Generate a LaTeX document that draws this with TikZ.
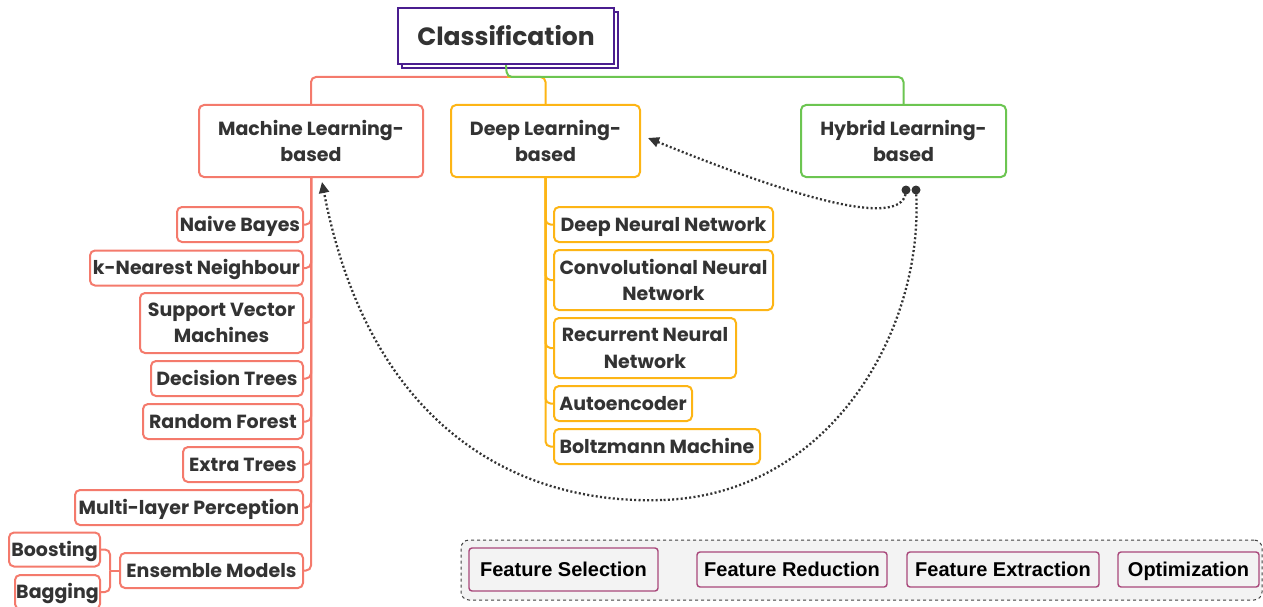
\documentclass[tikz,border=0pt]{standalone}
\usepackage{fontspec}
\setmainfont{Poppins}
\newfontfamily\featfont{Liberation Sans}
\usetikzlibrary{arrows.meta}
\definecolor{mlred}{HTML}{F47A6C}
\definecolor{dlorange}{HTML}{FDB515}
\definecolor{hygreen}{HTML}{6CC551}
\definecolor{clspurple}{HTML}{4A1D8F}
\definecolor{txt}{HTML}{333333}
\definecolor{featborder}{HTML}{A8477A}
\definecolor{featfill}{HTML}{F3F3F3}
\definecolor{dotc}{HTML}{333333}
\tikzset{
  base/.style={draw, line width=2pt, rounded corners=5pt, fill=white, text=txt,
    font=\fontsize{19}{26.5}\selectfont\bfseries, inner sep=0pt, align=center},
  single/.style={text height=14pt, text depth=1pt},
  mlbox/.style={base, draw=mlred},
  dlbox/.style={base, draw=dlorange},
  hybox/.style={base, draw=hygreen},
  mlline/.style={draw=mlred, line width=2pt, rounded corners=5pt},
  dlline/.style={draw=dlorange, line width=2pt, rounded corners=5pt},
  hyline/.style={draw=hygreen, line width=2pt, rounded corners=5pt},
  featbox/.style={draw=featborder, line width=1.4pt, rounded corners=3pt, fill=featfill,
    text=black, font=\featfont\fontsize{20}{24}\selectfont\bfseries, inner sep=0pt,
    text height=13pt, text depth=0pt},
  dotline/.style={draw=dotc, line width=2.3pt, dash pattern=on 2pt off 2.3pt},
  dotarrow/.style={dotline, -{Triangle[length=11pt,width=10pt]}},
}
\begin{document}
\begin{tikzpicture}[x=1pt,y=-1pt]
\useasboundingbox (0,0) rectangle (1263,607);

% Classification
\node[draw=clspurple, line width=2.2pt, fill=white, minimum width=216pt, minimum height=56pt, inner sep=0pt] (clsshadow) at (510,40) {};
\node[draw=clspurple, line width=2.2pt, fill=white, minimum width=216pt, minimum height=56pt, inner sep=0pt,
  text=txt, font=\fontsize{25}{30}\selectfont\bfseries] (cls) at (506,36) {Classification};

% level 1
\node[mlbox, minimum width=224pt, minimum height=72pt] (ml) at (311,141) {Machine Learning-\\based};
\node[dlbox, minimum width=189pt, minimum height=72pt] (dl) at (545.5,141) {Deep Learning-\\based};
\node[hybox, minimum width=205pt, minimum height=72pt] (hy) at (903.5,141) {Hybrid Learning-\\based};

\coordinate (cj) at (507,77);
\draw[dlline] (cj) -| (dl.north);
\draw[mlline] (cj) -| (ml.north);
\draw[hyline] (cls.south) -- (cj) -| (hy.north);

% ML children
\node[mlbox, single, minimum width=126pt, minimum height=35pt] (nb) at (240,224.5) {Naive Bayes};
\node[mlbox, single, minimum width=213pt, minimum height=35pt] (knn) at (196.5,268) {k-Nearest Neighbour};
\node[mlbox, minimum width=163pt, minimum height=60pt] (svm) at (221.5,323) {Support Vector\\Machines};
\node[mlbox, single, minimum width=152pt, minimum height=35pt] (dt) at (227,378.5) {Decision Trees};
\node[mlbox, single, minimum width=160pt, minimum height=35pt] (rf) at (223,421.5) {Random Forest};
\node[mlbox, single, minimum width=120pt, minimum height=35pt] (et) at (243,464.5) {Extra Trees};
\node[mlbox, single, minimum width=228pt, minimum height=35pt] (mlp) at (189,507.5) {Multi-layer Perception};
\node[mlbox, single, minimum width=183pt, minimum height=35pt] (ens) at (211.5,570.5) {Ensemble Models};
\node[mlbox, single, minimum width=91pt, minimum height=34pt] (boost) at (54.5,549.5) {Boosting};
\node[mlbox, single, minimum width=85pt, minimum height=34pt] (bag) at (57.5,592) {Bagging};

\foreach \c in {nb,knn,svm,dt,rf,et,mlp,ens}{
  \draw[mlline] (ml.south) |- (\c.east);
}
\coordinate (ensj) at (110,570.5);
\draw[mlline] (ens.west) -- (ensj);
\draw[mlline] (ensj) |- (boost.east);
\draw[mlline] (ensj) |- (bag.east);

% DL children
\node[dlbox, single, minimum width=219pt, minimum height=35pt, anchor=west] (dnn) at (553,224.5) {Deep Neural Network};
\node[dlbox, minimum width=219pt, minimum height=60pt, anchor=west] (cnn) at (553,280) {Convolutional Neural\\Network};
\node[dlbox, minimum width=182pt, minimum height=60pt, anchor=west] (rnn) at (553,348) {Recurrent Neural\\Network};
\node[dlbox, single, minimum width=138pt, minimum height=35pt, anchor=west] (ae) at (553,403.5) {Autoencoder};
\node[dlbox, single, minimum width=206pt, minimum height=35pt, anchor=west] (bm) at (553,446.5) {Boltzmann Machine};
\foreach \c in {dnn,cnn,rnn,ae,bm}{
  \draw[dlline] (dl.south) |- (\c.west);
}

% dotted relations
\coordinate (d1) at (906,190);
\coordinate (d2) at (916,190);
\coordinate (bot) at (662,500);
\coordinate (dlin) at (648,138);
\coordinate (mlin) at (322,182);
\draw[dotarrow] (d1) .. controls (906,230) and (800,200) .. (dlin);
\draw[dotline] (d2) .. controls (925,330) and (830,495) .. (bot);
\draw[dotarrow] (bot) .. controls (520,505) and (370,430) .. (mlin);
\fill[dotc] (d1) circle (4.5pt);
\fill[dotc] (d2) circle (4.5pt);

% bottom group
\node[draw=black!75, dashed, line width=1pt, rounded corners=8pt, fill=featfill,
  minimum width=801pt, minimum height=60pt, inner sep=0pt] (grp) at (861.5,570) {};
\node[featbox, minimum width=189pt, minimum height=43pt] (fs) at (563.5,569.5) {Feature Selection};
\node[featbox, minimum width=190pt, minimum height=35pt] (fr) at (792,569.5) {Feature Reduction};
\node[featbox, minimum width=192pt, minimum height=35pt] (fe) at (1003,569.5) {Feature Extraction};
\node[featbox, minimum width=141pt, minimum height=35pt] (op) at (1188.5,569.5) {Optimization};
\end{tikzpicture}
\end{document}
